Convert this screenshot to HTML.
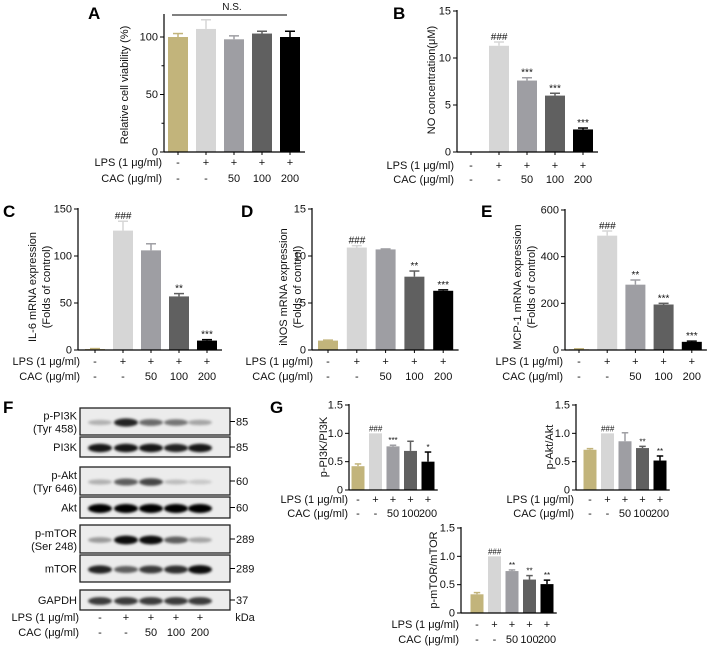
<!DOCTYPE html>
<html><head><meta charset="utf-8"><style>
body{margin:0;background:#fff;}
svg{display:block;font-family:"Liberation Sans",Arial,sans-serif;}
</style></head><body>
<svg id="fig" width="708" height="648" viewBox="0 0 708 648" xmlns="http://www.w3.org/2000/svg">
<defs><filter id="blur" x="-20%" y="-50%" width="140%" height="200%"><feGaussianBlur stdDeviation="1.4"/></filter></defs>
</svg>
<script>
const lpsRow=['-','+','+','+','+'];
const cacRow=['-','-','50','100','200'];
const colors=['#c2b47b','#d6d6d6','#9e9ea3','#606060','#000000'];
const aVals=[100,107,98,103,100];const aErr=[3,8,3,2,5];const aTicks=[0,50,100];
const bVals=[0,11.3,7.6,6.0,2.4];const bErr=[0,0.4,0.3,0.25,0.15];const bTicks=[0,5,10,15];const bStars=['','###','***','***','***'];
const cVals=[1,127,106,57,10];const cErr=[0.5,10,7,3,1];const cTicks=[0,50,100,150];const cStars=['','###','','**','***'];
const dVals=[1,10.9,10.7,7.8,6.3];const dErr=[0.05,0.2,0.05,0.6,0.1];const dTicks=[0,5,10,15];const dStars=['','###','','**','***'];
const eVals=[3,490,280,195,35];const eErr=[2,20,20,5,3];const eTicks=[0,200,400,600];const eStars=['','###','**','***','***'];
const g1Vals=[0.42,1.0,0.77,0.69,0.5];const g1Err=[0.04,0,0.02,0.17,0.17];const g1Stars=['','###','***','','*'];
const g2Vals=[0.71,1.0,0.86,0.74,0.52];const g2Err=[0.02,0,0.15,0.03,0.08];const g2Stars=['','###','','**','**'];
const g3Vals=[0.33,1.0,0.74,0.59,0.51];const g3Err=[0.03,0,0.02,0.07,0.07];const g3Stars=['','###','**','**','**'];
const gTicks=[0,0.5,1.0,1.5];
const blotNames=[['p-PI3K','(Tyr 458)'],['PI3K'],['p-Akt','(Tyr 646)'],['Akt'],['p-mTOR','(Ser 248)'],['mTOR'],['GAPDH']];
const blotKDa=['85','85','60','60','289','289','37'];
const blotIntensity=[[0.25,0.85,0.55,0.5,0.3],[0.9,0.9,0.9,0.85,0.9],[0.25,0.6,0.7,0.2,0.15],[1,1,1,1,1],[0.35,0.95,0.95,0.6,0.3],[0.85,0.6,0.75,0.8,0.95],[0.75,0.75,0.75,0.75,0.75]];

const svg=document.getElementById('fig');
const NS='http://www.w3.org/2000/svg';
function el(tag,attrs,parent){const e=document.createElementNS(NS,tag);for(const k in attrs)e.setAttribute(k,attrs[k]);(parent||svg).appendChild(e);return e;}
function txt(s,x,y,size,anchor,parent,extra){const t=el('text',Object.assign({x:x,y:y,'font-size':size,'text-anchor':anchor||'middle',fill:'#111'},extra||{}),parent);t.textContent=s;return t;}

function chart(name,c,vals,errs,ticks,stars){
  const g=el('g',{});
  
  
  const max=ticks[ticks.length-1];
  const ys=v=>c.y0-(v/max)*(c.y0-c.yTop);
  const xs=i=>c.x0+i*c.step;
  const right=xs(vals.length-1)+c.step/2+1;
  vals.forEach((v,i)=>{
    const h=c.y0-ys(v);
    const b=el('rect',{x:xs(i)-c.bw/2,y:ys(v),width:c.bw,height:Math.max(h,0),fill:colors[i]},g);
    
    
    if(errs[i]>0){
      const yt=ys(v+errs[i]);
      el('line',{x1:xs(i),x2:xs(i),y1:ys(v),y2:yt,stroke:colors[i],'stroke-width':1.5},g);
      el('line',{x1:xs(i)-c.bw/4,x2:xs(i)+c.bw/4,y1:yt,y2:yt,stroke:colors[i],'stroke-width':1.5},g);
    }
    if(stars&&stars[i]){
      const st=txt(stars[i],xs(i),ys(v+errs[i])-2,c.sfs||9,'middle',g,{'font-style':stars[i][0]=='#'?'italic':'normal'});
      
      
    }
    txt(lpsRow[i],xs(i),c.y0+c.r1,c.fs,'middle',g);
    txt(cacRow[i],xs(i),c.y0+c.r2,c.fs,'middle',g);
    if(c.xt) el('line',{x1:xs(i),x2:xs(i),y1:c.y0,y2:c.y0+3,stroke:'#000'},g);
  });
  el('line',{x1:c.ax,x2:c.ax,y1:(c.axTop||c.yTop)-1,y2:c.y0,stroke:'#000','stroke-width':1.2},g);
  el('line',{x1:c.ax,x2:right,y1:c.y0,y2:c.y0,stroke:'#000','stroke-width':1.2},g);
  ticks.forEach(t=>{
    el('line',{x1:c.ax-4,x2:c.ax,y1:ys(t),y2:ys(t),stroke:'#000'},g);
    txt(c.fmt?t.toFixed(1).replace(/^0\.0$/,'0'):String(t),c.ax-6,ys(t)+3.5,c.fs,'end',g);
  });
  if(c.minor) for(let k=0;k<ticks.length-1;k++){const m=(ticks[k]+ticks[k+1])/2;el('line',{x1:c.ax-2.5,x2:c.ax,y1:ys(m),y2:ys(m),stroke:'#000'},g);}
  const l1=txt('LPS (1 μg/ml)',c.lx,c.y0+c.r1,c.fs,'end',g);
  const l2=txt('CAC (μg/ml)',c.lx,c.y0+c.r2,c.fs,'end',g);
  c.title.forEach((s,k)=>{
    const tx=c.tx+k*14;
    const t=txt(s,tx,c.ty,c.fs,'middle',g,{transform:`rotate(-90 ${tx} ${c.ty})`});
    
  });
  if(c.letter.trim()){
  const L=el('text',{x:c.lbx,y:c.lby,'font-size':17,'font-weight':'bold',fill:'#000'},g);L.textContent=c.letter;
  }
  return g;
}

chart('panel-a-viability',{x0:178,step:28,bw:20,ax:164,y0:152,yTop:37,axTop:15,r1:14,r2:30,fs:11,lx:162,title:['Relative cell viability (%)'],tx:128,ty:85,lbx:88,lby:19,letter:'A',xt:true,minor:true,sfs:10},aVals,aErr,aTicks,null);
const ns=el('line',{x1:172,x2:287,y1:15,y2:15,stroke:'#000'});

txt('N.S.',232,10,10,'middle');
chart('panel-b-no',{x0:471,step:28,bw:20,ax:457,y0:152,yTop:11,r1:17,r2:31,fs:11,lx:454,title:['NO concentration(μM)'],tx:435,ty:80,lbx:393,lby:19,letter:'B',xt:true,sfs:10},bVals,bErr,bTicks,bStars);
chart('panel-c-il6',{x0:95,step:28,bw:20,ax:78,y0:350,yTop:209,r1:15,r2:30,fs:11,lx:80,title:['IL-6 mRNA expression','(Folds of control)'],tx:36,ty:287,lbx:3,lby:217,letter:'C',xt:true,sfs:10},cVals,cErr,cTicks,cStars);
chart('panel-d-inos',{x0:328,step:28.8,bw:20,ax:312,y0:350,yTop:209,r1:15,r2:30,fs:11,lx:313,title:['iNOS mRNA expression','(Folds of control)'],tx:287,ty:287,lbx:241,lby:217,letter:'D',xt:true,sfs:10},dVals,dErr,dTicks,dStars);
chart('panel-e-mcp1',{x0:579,step:28.2,bw:20,ax:565,y0:350,yTop:210,r1:15,r2:30,fs:11,lx:563,title:['MCP-1 mRNA expression','(Folds of control)'],tx:521,ty:287,lbx:481,lby:217,letter:'E',xt:true,sfs:10},eVals,eErr,eTicks,eStars);
chart('panel-g-pi3k',{x0:358,step:17.5,bw:13,ax:349,y0:490,yTop:405,r1:13,r2:27,fs:11,lx:348,title:['p-PI3K/PI3K'],tx:327,ty:447,lbx:270,lby:413,letter:'G',fmt:true,sfs:8},g1Vals,g1Err,gTicks,g1Stars);
chart('panel-g-akt',{x0:590,step:17.5,bw:13,ax:576,y0:490,yTop:405,r1:13,r2:27,fs:11,lx:574,title:['p-Akt/Akt'],tx:553,ty:447,lbx:0,lby:0,letter:' ',fmt:true,sfs:8},g2Vals,g2Err,gTicks,g2Stars);
chart('panel-g-mtor',{x0:477,step:17.5,bw:13,ax:461,y0:613,yTop:528,r1:15,r2:30,fs:11,lx:459,title:['p-mTOR/mTOR'],tx:437,ty:570,lbx:0,lby:0,letter:' ',fmt:true,sfs:8},g3Vals,g3Err,gTicks,g3Stars);

// Western blot panel F
const F=el('g',{});


const FL=el('text',{x:3,y:413,'font-size':17,'font-weight':'bold',fill:'#000'},F);FL.textContent='F';
const rows=[[408,435],[437,457],[467,495],[497,518],[525,553],[555,582],[590,610]];
const lanes=[100,126,151,176,200];
rows.forEach((r,i)=>{
  const h=r[1]-r[0];const cy=(r[0]+r[1])/2;
  const box=el('rect',{x:80,y:r[0],width:150,height:h,fill:'#ececec',stroke:'#222','stroke-width':1.3},F);
  
  
  lanes.forEach((lx,j)=>{
    const a=blotIntensity[i][j];
    el('ellipse',{cx:lx,cy:cy+1,rx:12,ry:2+a*2.5,fill:'#000','fill-opacity':a,filter:'url(#blur)'},F);
  });
  const n=blotNames[i];
  if(n.length==2){txt(n[0],77,cy-2,11,'end',F);txt(n[1],77,cy+11,11,'end',F);}
  else txt(n[0],77,cy+4,11,'end',F);
  el('line',{x1:230,x2:235,y1:cy,y2:cy,stroke:'#000'},F);
  txt(blotKDa[i],236,cy+4,11,'start',F);
});
lanes.forEach((lx,j)=>{txt(lpsRow[j],lx,621,11,'middle',F);txt(cacRow[j],lx,636,11,'middle',F);});
txt('LPS (1 μg/ml)',79,621,11,'end',F);
txt('CAC (μg/ml)',79,636,11,'end',F);
txt('kDa',245,621,11,'middle',F);
</script>
</body></html>
